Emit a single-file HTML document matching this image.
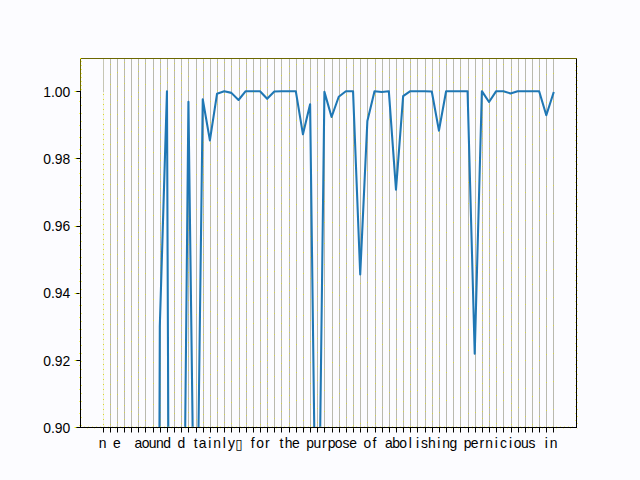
<!DOCTYPE html>
<html><head><meta charset="utf-8"><title>plot</title>
<style>html,body{margin:0;padding:0;background:#fcfcff;font-family:"Liberation Sans",sans-serif}svg{display:block}</style>
</head><body>
<svg width="640" height="480" viewBox="0 0 640 480">
<defs>
<clipPath id="ax"><rect x="80" y="57.6" width="496" height="369.6"/></clipPath>
</defs>
<rect width="640" height="480" fill="#fcfcff"/>
<g fill="#b9b9ae">
<rect x="103" y="59" width="1" height="33" fill="#c6c6b4"/><rect x="103" y="92" width="1" height="335" fill="#f1f1dc"/><rect x="110" y="59" width="1" height="368"/><rect x="117" y="59" width="1" height="368"/><rect x="124" y="59" width="1" height="368"/><rect x="131" y="59" width="1" height="368"/><rect x="138" y="59" width="1" height="368"/><rect x="145" y="59" width="1" height="368"/><rect x="153" y="59" width="1" height="368"/><rect x="160" y="59" width="1" height="368"/><rect x="167" y="59" width="1" height="368"/><rect x="174" y="59" width="1" height="368"/><rect x="181" y="59" width="1" height="368"/><rect x="188" y="59" width="1" height="368"/><rect x="196" y="59" width="1" height="368"/><rect x="203" y="59" width="1" height="368"/><rect x="210" y="59" width="1" height="368"/><rect x="217" y="59" width="1" height="368"/><rect x="224" y="59" width="1" height="368"/><rect x="231" y="59" width="1" height="368"/><rect x="239" y="59" width="1" height="368"/><rect x="246" y="59" width="1" height="368"/><rect x="253" y="59" width="1" height="368"/><rect x="260" y="59" width="1" height="368"/><rect x="267" y="59" width="1" height="368"/><rect x="274" y="59" width="1" height="368"/><rect x="281" y="59" width="1" height="368"/><rect x="289" y="59" width="1" height="368"/><rect x="296" y="59" width="1" height="368"/><rect x="303" y="59" width="1" height="368"/><rect x="310" y="59" width="1" height="368"/><rect x="317" y="59" width="1" height="368"/><rect x="324" y="59" width="1" height="368"/><rect x="332" y="59" width="1" height="368"/><rect x="339" y="59" width="1" height="368"/><rect x="346" y="59" width="1" height="368"/><rect x="353" y="59" width="1" height="368"/><rect x="360" y="59" width="1" height="368"/><rect x="367" y="59" width="1" height="368"/><rect x="375" y="59" width="1" height="368"/><rect x="382" y="59" width="1" height="368"/><rect x="389" y="59" width="1" height="368"/><rect x="396" y="59" width="1" height="368"/><rect x="403" y="59" width="1" height="368"/><rect x="410" y="59" width="1" height="368"/><rect x="417" y="59" width="1" height="368"/><rect x="425" y="59" width="1" height="368"/><rect x="432" y="59" width="1" height="368"/><rect x="439" y="59" width="1" height="368"/><rect x="446" y="59" width="1" height="368"/><rect x="453" y="59" width="1" height="368"/><rect x="460" y="59" width="1" height="368"/><rect x="468" y="59" width="1" height="368"/><rect x="475" y="59" width="1" height="368"/><rect x="482" y="59" width="1" height="368"/><rect x="489" y="59" width="1" height="368"/><rect x="496" y="59" width="1" height="368"/><rect x="503" y="59" width="1" height="368"/><rect x="511" y="59" width="1" height="368"/><rect x="518" y="59" width="1" height="368"/><rect x="525" y="59" width="1" height="368"/><rect x="532" y="59" width="1" height="368"/><rect x="539" y="59" width="1" height="368"/><rect x="546" y="59" width="1" height="368"/><rect x="553" y="59" width="1" height="368"/>
</g>
<g stroke="#d8d830" stroke-width="1" fill="none">
<path d="M103.5 94V427" stroke-dasharray="1 4"/><path d="M110.5 64V427" stroke-dasharray="1 9" stroke-opacity="0.8"/><path d="M117.5 72V427" stroke-dasharray="1 13" stroke-opacity="0.8"/><path d="M124.5 62V427" stroke-dasharray="1 6" stroke-opacity="0.8"/><path d="M131.5 96V427" stroke-dasharray="1 34" stroke-opacity="0.8"/><path d="M138.5 64V427" stroke-dasharray="1 6" stroke-opacity="0.8"/><path d="M145.5 63V427" stroke-dasharray="1 20" stroke-opacity="0.8"/><path d="M153.5 68V427" stroke-dasharray="1 20" stroke-opacity="0.8"/><path d="M160.5 62V427" stroke-dasharray="1 6" stroke-opacity="0.8"/><path d="M167.5 68V427" stroke-dasharray="1 13" stroke-opacity="0.8"/><path d="M174.5 63V427" stroke-dasharray="1 6" stroke-opacity="0.8"/><path d="M181.5 66V427" stroke-dasharray="1 6" stroke-opacity="0.8"/><path d="M188.5 62V427" stroke-dasharray="1 13" stroke-opacity="0.8"/><path d="M196.5 69V427" stroke-dasharray="1 34" stroke-opacity="0.8"/><path d="M203.5 62V427" stroke-dasharray="1 7" stroke-opacity="0.8"/><path d="M210.5 80V427" stroke-dasharray="1 20" stroke-opacity="0.8"/><path d="M217.5 62V427" stroke-dasharray="1 13" stroke-opacity="0.8"/><path d="M224.5 62V427" stroke-dasharray="1 7" stroke-opacity="0.8"/><path d="M231.5 66V427" stroke-dasharray="1 20" stroke-opacity="0.8"/><path d="M239.5 68V427" stroke-dasharray="1 9" stroke-opacity="0.8"/><path d="M246.5 63V427" stroke-dasharray="1 7" stroke-opacity="0.8"/><path d="M253.5 71V427" stroke-dasharray="1 20" stroke-opacity="0.8"/><path d="M260.5 67V427" stroke-dasharray="1 20" stroke-opacity="0.8"/><path d="M267.5 66V427" stroke-dasharray="1 6" stroke-opacity="0.8"/><path d="M274.5 82V427" stroke-dasharray="1 20" stroke-opacity="0.8"/><path d="M281.5 67V427" stroke-dasharray="1 7" stroke-opacity="0.8"/><path d="M289.5 66V427" stroke-dasharray="1 6" stroke-opacity="0.8"/><path d="M296.5 64V427" stroke-dasharray="1 27" stroke-opacity="0.8"/><path d="M303.5 63V427" stroke-dasharray="1 20" stroke-opacity="0.8"/><path d="M310.5 68V427" stroke-dasharray="1 20" stroke-opacity="0.8"/><path d="M317.5 72V427" stroke-dasharray="1 13" stroke-opacity="0.8"/><path d="M324.5 75V427" stroke-dasharray="1 20" stroke-opacity="0.8"/><path d="M332.5 82V427" stroke-dasharray="1 34" stroke-opacity="0.8"/><path d="M339.5 71V427" stroke-dasharray="1 13" stroke-opacity="0.8"/><path d="M346.5 67V427" stroke-dasharray="1 13" stroke-opacity="0.8"/><path d="M353.5 65V427" stroke-dasharray="1 9" stroke-opacity="0.8"/><path d="M360.5 73V427" stroke-dasharray="1 34" stroke-opacity="0.8"/><path d="M367.5 86V427" stroke-dasharray="1 27" stroke-opacity="0.8"/><path d="M375.5 63V427" stroke-dasharray="1 7" stroke-opacity="0.8"/><path d="M382.5 71V427" stroke-dasharray="1 20" stroke-opacity="0.8"/><path d="M389.5 77V427" stroke-dasharray="1 20" stroke-opacity="0.8"/><path d="M396.5 69V427" stroke-dasharray="1 9" stroke-opacity="0.8"/><path d="M403.5 71V427" stroke-dasharray="1 9" stroke-opacity="0.8"/><path d="M410.5 62V427" stroke-dasharray="1 6" stroke-opacity="0.8"/><path d="M417.5 75V427" stroke-dasharray="1 20" stroke-opacity="0.8"/><path d="M425.5 67V427" stroke-dasharray="1 7" stroke-opacity="0.8"/><path d="M432.5 69V427" stroke-dasharray="1 7" stroke-opacity="0.8"/><path d="M439.5 62V427" stroke-dasharray="1 13" stroke-opacity="0.8"/><path d="M446.5 64V427" stroke-dasharray="1 27" stroke-opacity="0.8"/><path d="M453.5 82V427" stroke-dasharray="1 34" stroke-opacity="0.8"/><path d="M460.5 67V427" stroke-dasharray="1 9" stroke-opacity="0.8"/><path d="M468.5 77V427" stroke-dasharray="1 20" stroke-opacity="0.8"/><path d="M475.5 76V427" stroke-dasharray="1 20" stroke-opacity="0.8"/><path d="M482.5 68V427" stroke-dasharray="1 6" stroke-opacity="0.8"/><path d="M489.5 64V427" stroke-dasharray="1 6" stroke-opacity="0.8"/><path d="M496.5 73V427" stroke-dasharray="1 13" stroke-opacity="0.8"/><path d="M503.5 64V427" stroke-dasharray="1 27" stroke-opacity="0.8"/><path d="M511.5 67V427" stroke-dasharray="1 6" stroke-opacity="0.8"/><path d="M518.5 71V427" stroke-dasharray="1 27" stroke-opacity="0.8"/><path d="M525.5 80V427" stroke-dasharray="1 27" stroke-opacity="0.8"/><path d="M532.5 88V427" stroke-dasharray="1 27" stroke-opacity="0.8"/><path d="M539.5 66V427" stroke-dasharray="1 13" stroke-opacity="0.8"/><path d="M546.5 74V427" stroke-dasharray="1 27" stroke-opacity="0.8"/><path d="M553.5 73V427" stroke-dasharray="1 27" stroke-opacity="0.8"/>
</g>
<polyline clip-path="url(#ax)" points="102.55,2443.20 109.70,2443.20 116.86,2443.20 124.02,2443.20 131.17,2443.20 138.33,2443.20 145.49,2443.20 152.65,2443.20 159.80,326.40 166.96,91.20 174.12,1898.88 181.28,823.68 188.43,101.78 195.59,655.68 202.75,99.26 209.90,140.39 217.06,93.69 224.22,91.20 231.38,92.88 238.53,100.00 245.69,91.20 252.85,91.20 260.01,91.20 267.16,98.79 274.32,91.54 281.48,91.20 288.63,91.20 295.79,91.20 302.95,134.31 310.11,104.20 317.26,662.40 324.42,91.87 331.58,117.00 338.74,96.74 345.89,91.20 353.05,91.20 360.21,274.49 367.37,121.00 374.52,91.20 381.68,92.01 388.84,91.20 395.99,189.61 403.15,96.11 410.31,91.20 417.47,91.20 424.62,91.20 431.78,91.54 438.94,130.61 446.10,91.20 453.25,91.20 460.41,91.20 467.57,91.20 474.72,353.68 481.88,91.20 489.04,101.99 496.20,91.20 503.35,91.20 510.51,93.38 517.67,91.20 524.83,91.30 531.98,91.20 539.14,91.20 546.30,115.29 553.45,93.01" fill="none" stroke="#1f77b4" stroke-width="2.083" stroke-linejoin="round" stroke-linecap="square"/>
<g fill="#000">
<rect x="103" y="428" width="1" height="4.5"/><rect x="110" y="428" width="1" height="4.5"/><rect x="117" y="428" width="1" height="4.5"/><rect x="124" y="428" width="1" height="4.5"/><rect x="131" y="428" width="1" height="4.5"/><rect x="138" y="428" width="1" height="4.5"/><rect x="145" y="428" width="1" height="4.5"/><rect x="153" y="428" width="1" height="4.5"/><rect x="160" y="428" width="1" height="4.5"/><rect x="167" y="428" width="1" height="4.5"/><rect x="174" y="428" width="1" height="4.5"/><rect x="181" y="428" width="1" height="4.5"/><rect x="188" y="428" width="1" height="4.5"/><rect x="196" y="428" width="1" height="4.5"/><rect x="203" y="428" width="1" height="4.5"/><rect x="210" y="428" width="1" height="4.5"/><rect x="217" y="428" width="1" height="4.5"/><rect x="224" y="428" width="1" height="4.5"/><rect x="231" y="428" width="1" height="4.5"/><rect x="239" y="428" width="1" height="4.5"/><rect x="246" y="428" width="1" height="4.5"/><rect x="253" y="428" width="1" height="4.5"/><rect x="260" y="428" width="1" height="4.5"/><rect x="267" y="428" width="1" height="4.5"/><rect x="274" y="428" width="1" height="4.5"/><rect x="281" y="428" width="1" height="4.5"/><rect x="289" y="428" width="1" height="4.5"/><rect x="296" y="428" width="1" height="4.5"/><rect x="303" y="428" width="1" height="4.5"/><rect x="310" y="428" width="1" height="4.5"/><rect x="317" y="428" width="1" height="4.5"/><rect x="324" y="428" width="1" height="4.5"/><rect x="332" y="428" width="1" height="4.5"/><rect x="339" y="428" width="1" height="4.5"/><rect x="346" y="428" width="1" height="4.5"/><rect x="353" y="428" width="1" height="4.5"/><rect x="360" y="428" width="1" height="4.5"/><rect x="367" y="428" width="1" height="4.5"/><rect x="375" y="428" width="1" height="4.5"/><rect x="382" y="428" width="1" height="4.5"/><rect x="389" y="428" width="1" height="4.5"/><rect x="396" y="428" width="1" height="4.5"/><rect x="403" y="428" width="1" height="4.5"/><rect x="410" y="428" width="1" height="4.5"/><rect x="417" y="428" width="1" height="4.5"/><rect x="425" y="428" width="1" height="4.5"/><rect x="432" y="428" width="1" height="4.5"/><rect x="439" y="428" width="1" height="4.5"/><rect x="446" y="428" width="1" height="4.5"/><rect x="453" y="428" width="1" height="4.5"/><rect x="460" y="428" width="1" height="4.5"/><rect x="468" y="428" width="1" height="4.5"/><rect x="475" y="428" width="1" height="4.5"/><rect x="482" y="428" width="1" height="4.5"/><rect x="489" y="428" width="1" height="4.5"/><rect x="496" y="428" width="1" height="4.5"/><rect x="503" y="428" width="1" height="4.5"/><rect x="511" y="428" width="1" height="4.5"/><rect x="518" y="428" width="1" height="4.5"/><rect x="525" y="428" width="1" height="4.5"/><rect x="532" y="428" width="1" height="4.5"/><rect x="539" y="428" width="1" height="4.5"/><rect x="546" y="428" width="1" height="4.5"/><rect x="553" y="428" width="1" height="4.5"/><rect x="75.5" y="427" width="5" height="1"/><rect x="75.5" y="360" width="5" height="1"/><rect x="75.5" y="293" width="5" height="1"/><rect x="75.5" y="226" width="5" height="1"/><rect x="75.5" y="158" width="5" height="1"/><rect x="75.5" y="91" width="5" height="1"/>
</g>
<rect x="80" y="91" width="1" height="337" fill="#000"/>
<rect x="80" y="58" width="1" height="33" fill="#6b6700"/>
<rect x="576" y="59" width="1" height="369" fill="#000"/>
<rect x="80" y="427" width="497" height="1" fill="#000"/>
<rect x="80" y="58" width="497" height="1" fill="#6b6700"/>
<rect x="80" y="58" width="1" height="1" fill="#f0f000"/>
<g stroke="#f0f000" stroke-width="1" fill="none" stroke-opacity="0.6">
<path d="M81.5 61V92" stroke-dasharray="1 3"/><path d="M81.5 97V426" stroke-dasharray="1 7"/><path d="M79.5 101V426" stroke-dasharray="1 11"/><path d="M575.5 63V426" stroke-dasharray="1 6"/><path d="M577.5 66V428" stroke-dasharray="1 6"/><path d="M84 426.5H575" stroke-dasharray="1 3" stroke-opacity="0.35"/><path d="M87 428.5H578" stroke-dasharray="1 6" stroke-opacity="0.3"/><path d="M74.6 427.5H76.4" stroke-opacity="1"/><path d="M74.6 360.5H76.4" stroke-opacity="1"/><path d="M74.6 293.5H76.4" stroke-opacity="1"/><path d="M74.6 226.5H76.4" stroke-opacity="1"/><path d="M74.6 158.5H76.4" stroke-opacity="1"/><path d="M74.6 91.5H76.4" stroke-opacity="1"/>
</g>
<g font-family="Liberation Sans, DejaVu Sans, sans-serif" font-size="13.9" fill="#000">
<text x="102.5" y="448" text-anchor="middle">n</text><text x="116.9" y="448" text-anchor="middle">e</text><text x="138.3" y="448" text-anchor="middle">a</text><text x="145.5" y="448" text-anchor="middle">o</text><text x="152.6" y="448" text-anchor="middle">u</text><text x="159.8" y="448" text-anchor="middle">n</text><text x="167.0" y="448" text-anchor="middle">d</text><text x="181.3" y="448" text-anchor="middle">d</text><text x="195.6" y="448" text-anchor="middle">t</text><text x="202.7" y="448" text-anchor="middle">a</text><text x="209.9" y="448" text-anchor="middle">i</text><text x="217.1" y="448" text-anchor="middle">n</text><text x="224.2" y="448" text-anchor="middle">l</text><text x="231.4" y="448" text-anchor="middle">y</text><text x="239.2" y="449" text-anchor="middle">▯</text><text x="252.8" y="448" text-anchor="middle">f</text><text x="260.0" y="448" text-anchor="middle">o</text><text x="267.2" y="448" text-anchor="middle">r</text><text x="281.5" y="448" text-anchor="middle">t</text><text x="288.6" y="448" text-anchor="middle">h</text><text x="295.8" y="448" text-anchor="middle">e</text><text x="310.1" y="448" text-anchor="middle">p</text><text x="317.3" y="448" text-anchor="middle">u</text><text x="324.4" y="448" text-anchor="middle">r</text><text x="331.6" y="448" text-anchor="middle">p</text><text x="338.7" y="448" text-anchor="middle">o</text><text x="345.9" y="448" text-anchor="middle">s</text><text x="353.1" y="448" text-anchor="middle">e</text><text x="367.4" y="448" text-anchor="middle">o</text><text x="374.5" y="448" text-anchor="middle">f</text><text x="388.8" y="448" text-anchor="middle">a</text><text x="396.0" y="448" text-anchor="middle">b</text><text x="403.2" y="448" text-anchor="middle">o</text><text x="410.3" y="448" text-anchor="middle">l</text><text x="417.5" y="448" text-anchor="middle">i</text><text x="424.6" y="448" text-anchor="middle">s</text><text x="431.8" y="448" text-anchor="middle">h</text><text x="438.9" y="448" text-anchor="middle">i</text><text x="446.1" y="448" text-anchor="middle">n</text><text x="453.3" y="448" text-anchor="middle">g</text><text x="467.6" y="448" text-anchor="middle">p</text><text x="474.7" y="448" text-anchor="middle">e</text><text x="481.9" y="448" text-anchor="middle">r</text><text x="489.0" y="448" text-anchor="middle">n</text><text x="496.2" y="448" text-anchor="middle">i</text><text x="503.4" y="448" text-anchor="middle">c</text><text x="510.5" y="448" text-anchor="middle">i</text><text x="517.7" y="448" text-anchor="middle">o</text><text x="524.8" y="448" text-anchor="middle">u</text><text x="532.0" y="448" text-anchor="middle">s</text><text x="546.3" y="448" text-anchor="middle">i</text><text x="553.5" y="448" text-anchor="middle">n</text>
<text x="70.3" y="433.1" text-anchor="end">0.90</text><text x="70.3" y="366.1" text-anchor="end">0.92</text><text x="70.3" y="298.1" text-anchor="end">0.94</text><text x="70.3" y="231.2" text-anchor="end">0.96</text><text x="70.3" y="164.3" text-anchor="end">0.98</text><text x="70.3" y="97.1" text-anchor="end">1.00</text>
</g>
</svg>
</body></html>
